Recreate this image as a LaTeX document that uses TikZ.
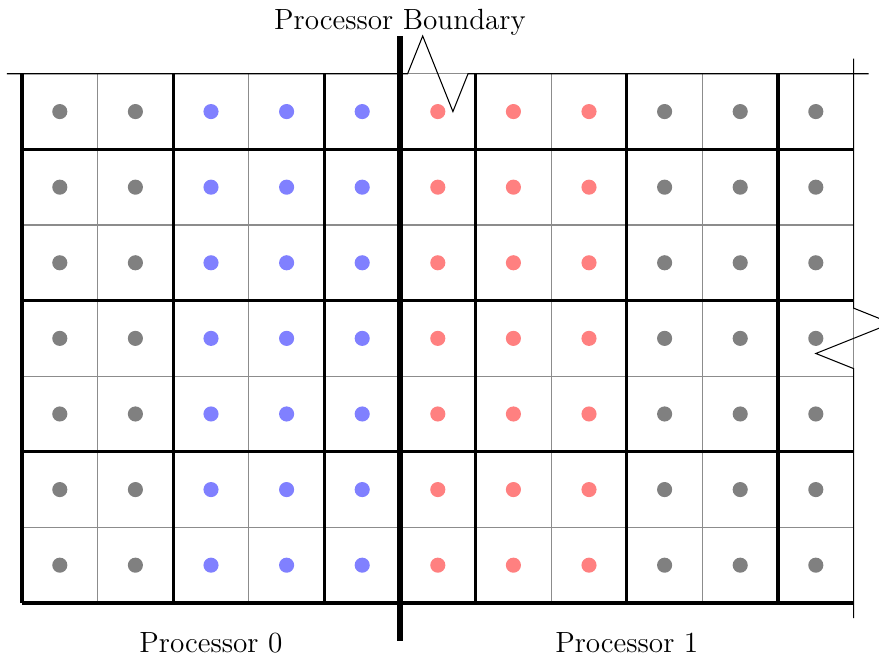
\documentclass[tikz,border=0pt]{standalone}
\begin{document}
\begin{tikzpicture}[
  gridthin/.style={draw=black!45, line width=0.4pt},
  gridthick/.style={draw=black, line width=1.2pt},
  bound/.style={draw=black, line width=0.4pt},
  procline/.style={draw=black, line width=2.1pt},
  lab/.style={font=\fontsize{11pt}{13pt}\selectfont, inner sep=0pt, anchor=base},
  dotg/.style={fill=black!50},
  dotb/.style={fill=blue!50},
  dotr/.style={fill=red!50}
]
\useasboundingbox (-0.291,-0.7275) rectangle (11.336,7.976);
\begin{scope}
\clip (-0.291,-0.7275) rectangle (11.336,7.976);
% thin grid
\draw[gridthin] (0,0) grid (11,7);
% dots
\foreach \i in {0,...,10}{
  \foreach \j in {0,...,6}{
    \ifnum\i<2
      \fill[dotg] (\i+0.5,\j+0.5) circle (0.1);
    \else\ifnum\i<5
      \fill[dotb] (\i+0.5,\j+0.5) circle (0.1);
    \else\ifnum\i<8
      \fill[dotr] (\i+0.5,\j+0.5) circle (0.1);
    \else
      \fill[dotg] (\i+0.5,\j+0.5) circle (0.1);
    \fi\fi\fi
  }
}
% thick lines
\foreach \x in {0,2,4,6,8,10} \draw[gridthick] (\x,0) -- (\x,7);
\foreach \y in {0,2,4,6} \draw[gridthick] (0,\y) -- (11,\y);
% domain boundary with breaks
\draw[bound] (-0.2,7) -- (5.1,7) -- (5.3,7.5) -- (5.7,6.5) -- (5.9,7) -- (11.2,7);
\draw[bound] (11,7.2) -- (11,3.9) -- (11.5,3.7) -- (10.5,3.3) -- (11,3.1) -- (11,-0.2);
% processor boundary
\draw[procline] (5,-0.5) -- (5,7.5);
\end{scope}
\node[lab] (pb) at (5,7.58) {Processor Boundary};
\node[lab] (p0) at (2.5,-0.66) {Processor 0};
\node[lab] (p1) at (8,-0.66) {Processor 1};
\end{tikzpicture}
\end{document}
